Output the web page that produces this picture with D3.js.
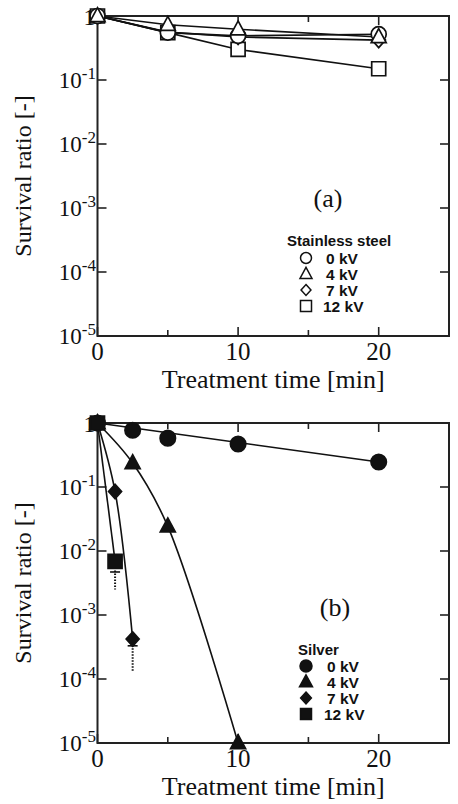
<!DOCTYPE html>
<html lang="en">
<head>
  <meta charset="UTF-8">
  <title>Survival ratio vs treatment time</title>
  <style>
    html, body { margin: 0; padding: 0; background: #fff; }
    svg { display: block; }
  </style>
</head>
<body>
<div id="chart"></div>
<script src="https://d3js.org/d3.v7.min.js"></script>
<script>
  // values
  const legendKV = ['0 kV', '4 kV', '7 kV', '12 kV'];
  const xTicks = [0, 10, 20];
  const xMinorTicks = [5, 15];
  const yTicks = [1, 1e-1, 1e-2, 1e-3, 1e-4, 1e-5];

  // (a) stainless steel
  const steelTimes = [0, 5, 10, 20];
  const steel0 = [1, 0.55, 0.49, 0.52];
  const steel4 = [1, 0.73, 0.62, 0.47];
  const steel7 = [1, 0.56, 0.47, 0.42];
  const steel12 = [1, 0.55, 0.30, 0.15];

  // (b) silver
  const silverTimes0 = [0, 2.5, 5, 10, 20];
  const silver0 = [1, 0.77, 0.58, 0.47, 0.246];
  const silverFitTimes0 = [0, 20];
  const silverFit0 = [1, 0.246];
  const silverTimes4 = [0, 2.5, 5, 10];
  const silver4 = [1, 0.237, 0.0243, 1e-5];
  const silverTimes7 = [0, 1.25, 2.5];
  const silver7 = [1, 0.085, 4.2e-4];
  const silverTimes12 = [0, 1.25];
  const silver12 = [1, 0.0069];

  // error bars (b)
  const errTimes = [1.25, 2.5];
  const errHigh = [0.0085, 5.2e-4];
  const errCap = [0.0047, 3.3e-4];
  const errLow = [0.0025, 1.3e-4];

  const width = 458;
  const height = 804;
  const serif = '"Liberation Serif", "Times New Roman", serif';
  const sans = '"Liberation Sans", Arial, sans-serif';

  const svg = d3.select('#chart').append('svg')
    .attr('width', width)
    .attr('height', height);

  const x = d3.scaleLinear().domain([0, 25]).range([97.5, 449]);

  const shapes = {
    circle: r => d3.symbol(d3.symbolCircle, Math.PI * r * r)(),
    square: r => d3.symbol(d3.symbolSquare, (2 * r) * (2 * r))(),
    triangle: r => {
      const h = r * 1.85;
      return `M0,${-h * 0.6}L${r},${h * 0.4}L${-r},${h * 0.4}Z`;
    },
    diamond: r => `M0,${-r}L${r * 0.9},0L0,${r}L${-r * 0.9},0Z`,
  };
  const shapeOrder = ['circle', 'triangle', 'diamond', 'square'];

  const drawPanel = (top, cfg) => {
    const y = d3.scaleLog().domain([1e-5, 1]).range([top + 320, top]);
    const g = svg.append('g');
    const [x0, x1] = x.range();
    const [yb, yt] = y.range();

    // ticks, inward on all four sides
    const tickG = g.append('g').attr('stroke', '#222').attr('stroke-width', 1.6);
    xTicks.concat(xMinorTicks).forEach(t => {
      const len = xTicks.includes(t) ? 9 : 6;
      tickG.append('line').attr('x1', x(t)).attr('x2', x(t)).attr('y1', yb).attr('y2', yb - len);
      tickG.append('line').attr('x1', x(t)).attr('x2', x(t)).attr('y1', yt).attr('y2', yt + len);
    });
    yTicks.forEach(v => {
      tickG.append('line').attr('x1', x0).attr('x2', x0 + 9).attr('y1', y(v)).attr('y2', y(v));
      tickG.append('line').attr('x1', x1).attr('x2', x1 - 9).attr('y1', y(v)).attr('y2', y(v));
    });

    g.append('rect')
      .attr('x', x0).attr('y', yt)
      .attr('width', x1 - x0).attr('height', yb - yt)
      .attr('fill', 'none').attr('stroke', '#222').attr('stroke-width', 2);

    // y tick labels
    yTicks.forEach(v => {
      const t = g.append('text')
        .attr('x', 96).attr('y', y(v) + 8)
        .attr('text-anchor', 'end')
        .attr('font-family', serif).attr('font-size', 23).attr('fill', '#111');
      const e = Math.round(Math.log10(v));
      if (e === 0) {
        t.attr('x', 95).attr('y', y(v) + 9).text('1');
      } else {
        t.append('tspan').text('10');
        t.append('tspan').attr('dy', -9).attr('font-size', 17).text(String(e));
      }
    });

    // x tick labels
    xTicks.forEach(v => {
      g.append('text')
        .attr('x', x(v)).attr('y', yb + 24)
        .attr('text-anchor', 'middle')
        .attr('font-family', serif).attr('font-size', 25).attr('fill', '#111')
        .text(v);
    });

    g.append('text')
      .attr('x', (x0 + x1) / 2).attr('y', yb + 52)
      .attr('text-anchor', 'middle')
      .attr('font-family', serif).attr('font-size', 26).attr('fill', '#111')
      .text('Treatment time [min]');

    g.append('text')
      .attr('transform', `translate(31,${(yt + yb) / 2}) rotate(-90)`)
      .attr('text-anchor', 'middle')
      .attr('font-family', serif).attr('font-size', 24).attr('fill', '#111')
      .text('Survival ratio [-]');

    g.append('text')
      .attr('x', cfg.tagX).attr('y', top + cfg.tagDy)
      .attr('text-anchor', 'middle')
      .attr('font-family', serif).attr('font-size', 26).attr('fill', '#111')
      .text(cfg.tag);

    // lines
    const lineG = g.append('g').attr('fill', 'none').attr('stroke', '#111').attr('stroke-width', 1.6);
    cfg.lines.forEach(l => {
      const pts = l.times.map((t, i) => [x(t), y(l.values[i])]);
      lineG.append('path')
        .attr('d', d3.line().curve(l.curve || d3.curveLinear)(pts));
    });

    // error bars
    if (cfg.errors) {
      const eg = g.append('g').attr('stroke', '#111').attr('stroke-width', 1.6);
      cfg.errors.times.forEach((t, i) => {
        eg.append('line')
          .attr('x1', x(t)).attr('x2', x(t))
          .attr('y1', y(cfg.errors.high[i])).attr('y2', y(cfg.errors.low[i]))
          .attr('stroke-dasharray', '1.5,1.5').attr('stroke-width', 2);
        eg.append('line')
          .attr('x1', x(t) - 5).attr('x2', x(t) + 5)
          .attr('y1', y(cfg.errors.cap[i])).attr('y2', y(cfg.errors.cap[i]));
      });
    }

    // markers
    const markG = g.append('g');
    cfg.markerOrder.forEach(idx => {
      const s = cfg.series[idx];
      s.times.forEach((t, i) => {
        markG.append('path')
          .attr('d', shapes[shapeOrder[idx]](cfg.markerR[idx]))
          .attr('transform', `translate(${x(t)},${y(s.values[i])})`)
          .attr('fill', cfg.filled ? '#111' : '#fff')
          .attr('stroke', '#111')
          .attr('stroke-width', 1.7);
      });
    });

    // legend
    const lg = g.append('g');
    lg.append('text')
      .attr('x', cfg.legend.titleX).attr('y', top + cfg.legend.titleDy)
      .attr('font-family', sans).attr('font-weight', 'bold').attr('font-size', 15)
      .attr('fill', '#111')
      .text(cfg.legend.title);
    legendKV.forEach((kv, i) => {
      const ly = top + cfg.legend.rowDy + i * 16;
      lg.append('path')
        .attr('d', shapes[shapeOrder[i]](cfg.legend.markerR[i]))
        .attr('transform', `translate(${cfg.legend.markerX},${ly})`)
        .attr('fill', cfg.filled ? '#111' : '#fff')
        .attr('stroke', '#111').attr('stroke-width', 1.5);
      lg.append('text')
        .attr('x', cfg.legend.textX - (kv.length > 4 ? 3 : 0)).attr('y', ly + 5.5)
        .attr('font-family', sans).attr('font-weight', 'bold').attr('font-size', 15.5)
        .attr('fill', '#111')
        .text(kv);
    });
  };

  drawPanel(16, {
    tag: '(a)', tagX: 328, tagDy: 191,
    filled: false,
    lines: [
      { times: steelTimes, values: steel0 },
      { times: steelTimes, values: steel4 },
      { times: steelTimes, values: steel7 },
      { times: steelTimes, values: steel12 },
    ],
    series: [
      { times: steelTimes, values: steel0 },
      { times: steelTimes, values: steel4 },
      { times: steelTimes, values: steel7 },
      { times: steelTimes, values: steel12 },
    ],
    markerR: [7.5, 7.5, 7.5, 7],
    markerOrder: [3, 2, 0, 1],
    legend: {
      title: 'Stainless steel', titleX: 287, titleDy: 230,
      rowDy: 242, markerX: 306, textX: 326,
      markerR: [5.5, 6, 5.5, 5.5],
    },
  });

  drawPanel(423, {
    tag: '(b)', tagX: 335, tagDy: 193,
    filled: true,
    lines: [
      { times: silverFitTimes0, values: silverFit0 },
      { times: silverTimes4, values: silver4, curve: d3.curveCatmullRom },
      { times: silverTimes7, values: silver7, curve: d3.curveCatmullRom },
      { times: silverTimes12, values: silver12 },
    ],
    series: [
      { times: silverTimes0, values: silver0 },
      { times: silverTimes4, values: silver4 },
      { times: silverTimes7, values: silver7 },
      { times: silverTimes12, values: silver12 },
    ],
    errors: { times: errTimes, high: errHigh, cap: errCap, low: errLow },
    markerR: [7.7, 7.5, 7.2, 7],
    markerOrder: [0, 1, 2, 3],
    legend: {
      title: 'Silver', titleX: 298, titleDy: 232,
      rowDy: 243, markerX: 306, textX: 327,
      markerR: [6, 6.5, 6, 5.5],
    },
  });
</script>
</body>
</html>
